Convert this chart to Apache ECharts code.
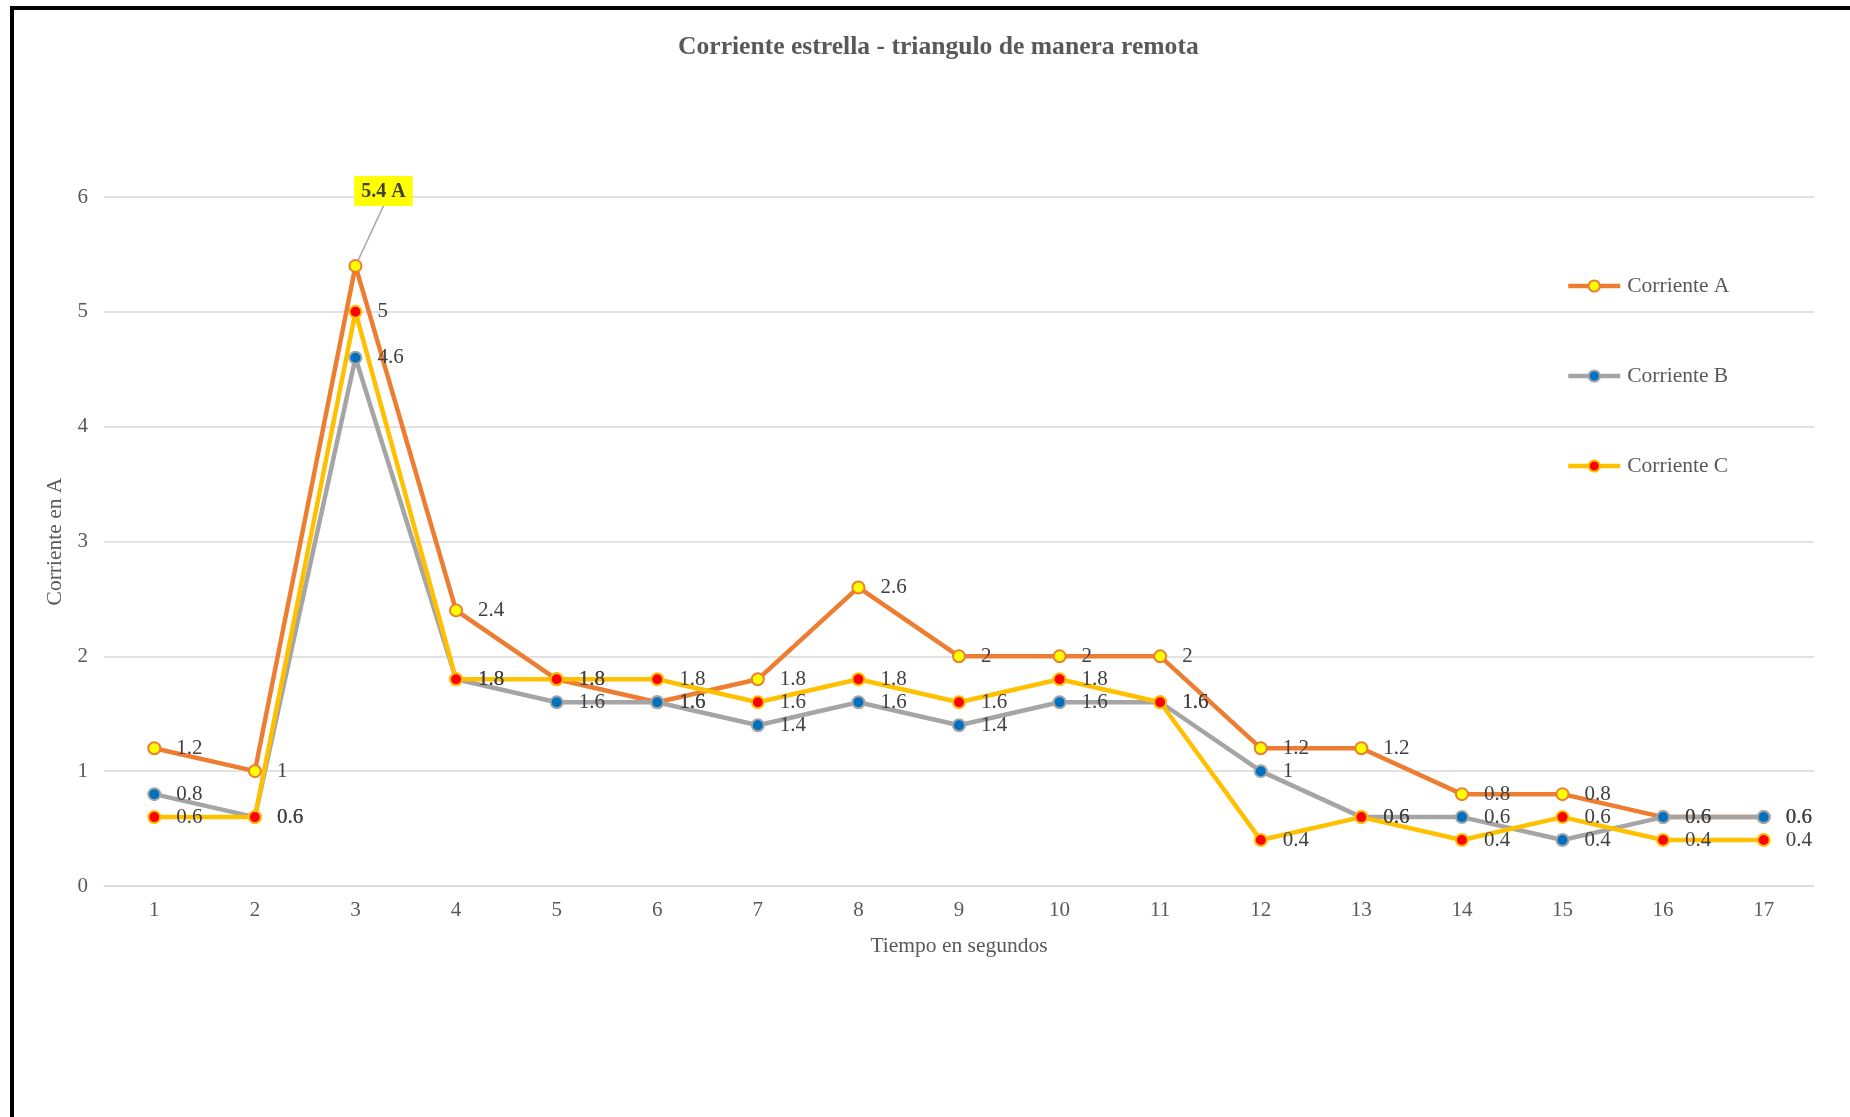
<!DOCTYPE html>
<html>
<head>
<meta charset="utf-8">
<title>Corriente estrella - triangulo de manera remota</title>
<script src="https://cdn.jsdelivr.net/npm/echarts@6/dist/echarts.min.js"></script>
<style>
  html, body { margin: 0; padding: 0; background: #fff; }
  #chart { width: 1850px; height: 1117px; }
</style>
</head>
<body>
<div id="chart"></div>
<script>
// Time steps (seconds) and measured currents per phase, in amperes
const tiempos = ['1','2','3','4','5','6','7','8','9','10','11','12','13','14','15','16','17'];
const corrienteA = [1.2, 1, 5.4, 2.4, 1.8, 1.6, 1.8, 2.6, 2, 2, 2, 1.2, 1.2, 0.8, 0.8, 0.6, 0.6];
const corrienteB = [0.8, 0.6, 4.6, 1.8, 1.6, 1.6, 1.4, 1.6, 1.4, 1.6, 1.6, 1, 0.6, 0.6, 0.4, 0.6, 0.6];
const corrienteC = [0.6, 0.6, 5, 1.8, 1.8, 1.8, 1.6, 1.8, 1.6, 1.8, 1.6, 0.4, 0.6, 0.4, 0.6, 0.4, 0.4];
const picoIndice = 2;          // peak of phase A, shown with a callout
const picoTexto = '5.4 A';

const FONT = '"Liberation Serif", "Times New Roman", serif';
const TXT = '#595959';
const LBL = '#404040';
const ANCHO_LINEA = 4.5;

function baseLabel() {
  return { show: true, position: 'right', distance: 15, color: LBL, fontFamily: FONT, fontSize: 21 };
}

function lineSeries(name, values, lineColor, fill, border) {
  return {
    name: name,
    type: 'line',
    data: values,
    symbol: 'circle',
    symbolSize: 12,
    showAllSymbol: true,
    lineStyle: { color: lineColor, width: ANCHO_LINEA },
    itemStyle: { color: fill, borderColor: border, borderWidth: 2 },
    label: baseLabel(),
    emphasis: { disabled: true },
    animation: false
  };
}

const serieA = lineSeries('Corriente A', corrienteA.map(function (v, i) {
  if (i !== picoIndice) return v;
  return {
    value: v,
    label: {
      show: true, position: 'top', distance: 5, formatter: picoTexto,
      backgroundColor: '#FFFF00', padding: [6, 7, 4, 7],
      fontWeight: 'bold', color: LBL, fontFamily: FONT, fontSize: 20
    },
    labelLine: { show: true, lineStyle: { color: '#A6A6A6', width: 1.5 } }
  };
}), '#ED7D31', '#FFFF00', '#ED7D31');
serieA.labelLayout = function (p) {
  if (p.dataIndex === picoIndice) return { dx: 28, dy: -48 };
  return {};
};

const serieB = lineSeries('Corriente B', corrienteB, '#A5A5A5', '#0070C0', '#A5A5A5');
const serieC = lineSeries('Corriente C', corrienteC, '#FFC000', '#FF0000', '#FFC000');

const chart = echarts.init(document.getElementById('chart'), null, { renderer: 'canvas' });
chart.setOption({
  backgroundColor: '#ffffff',
  animation: false,
  textStyle: { fontFamily: FONT },
  title: {
    text: 'Corriente estrella - triangulo de manera remota',
    left: 673,
    top: 29,
    textStyle: { fontFamily: FONT, fontSize: 25.6, fontWeight: 'bold', color: TXT }
  },
  legend: {
    orient: 'vertical',
    left: 1561,
    top: 270,
    itemWidth: 52,
    itemHeight: 14,
    itemGap: 68,
    lineStyle: { width: ANCHO_LINEA },
    textStyle: { fontFamily: FONT, fontSize: 21.5, color: TXT, padding: [0, 0, 0, 2] },
    data: ['Corriente A', 'Corriente B', 'Corriente C']
  },
  grid: { left: 104, right: 36, top: 197, bottom: 231 },
  xAxis: {
    type: 'category',
    data: tiempos,
    boundaryGap: true,
    name: 'Tiempo en segundos',
    nameLocation: 'middle',
    nameGap: 49,
    nameTextStyle: { fontFamily: FONT, fontSize: 21.5, color: TXT },
    axisLine: { lineStyle: { color: '#D9D9D9', width: 1.5 } },
    axisTick: { show: false },
    axisLabel: { fontFamily: FONT, fontSize: 21, color: TXT, margin: 14 }
  },
  yAxis: {
    type: 'value',
    min: 0,
    max: 6,
    interval: 1,
    name: 'Corriente en A',
    nameLocation: 'middle',
    nameGap: 34,
    nameTextStyle: { fontFamily: FONT, fontSize: 21.5, color: TXT },
    axisLine: { show: false },
    axisTick: { show: false },
    splitLine: { lineStyle: { color: '#D9D9D9', width: 1.5 } },
    axisLabel: { fontFamily: FONT, fontSize: 21, color: TXT, margin: 16 }
  },
  graphic: [{
    type: 'rect',
    z: 100,
    silent: true,
    shape: { x: 12, y: 8, width: 1900, height: 1200 },
    style: { fill: 'none', stroke: '#000000', lineWidth: 4 }
  }],
  series: [serieA, serieB, serieC]
});
</script>
</body>
</html>
